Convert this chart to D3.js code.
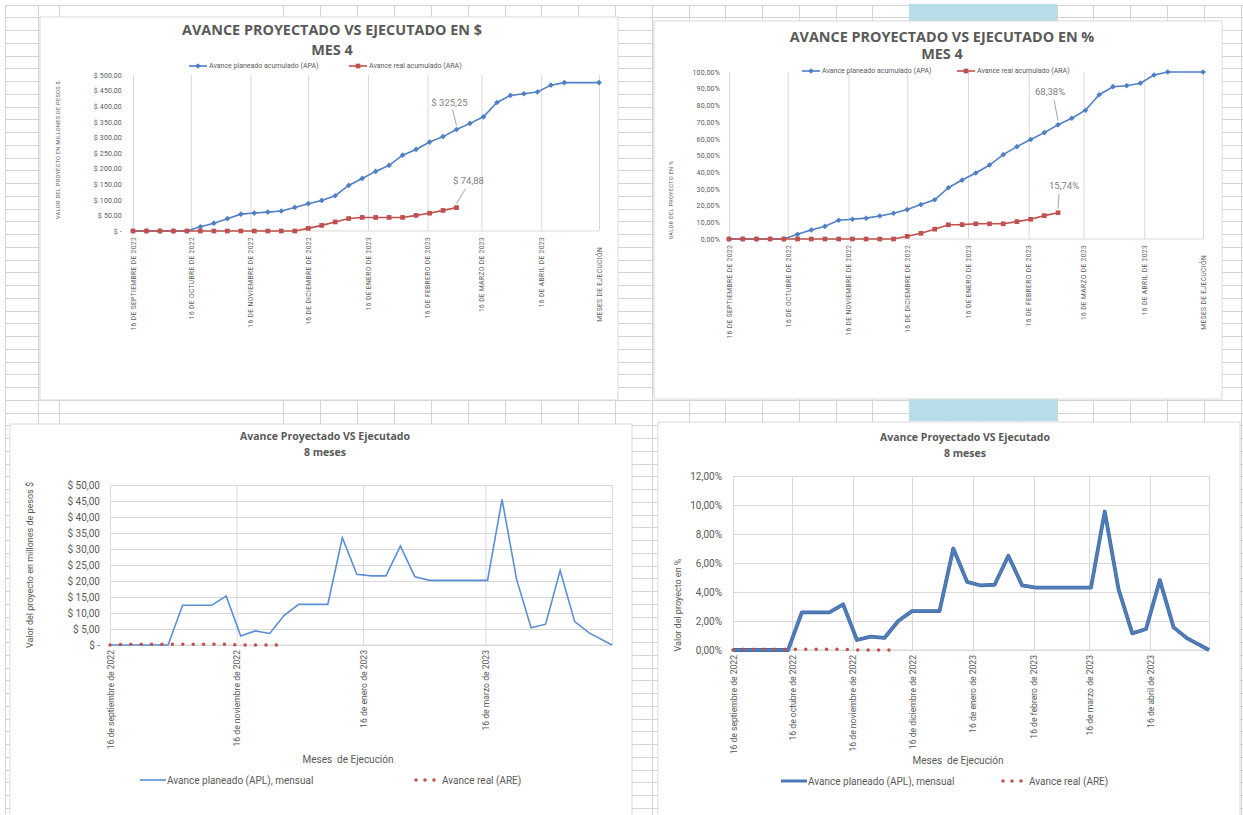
<!DOCTYPE html>
<html>
<head>
<meta charset="utf-8">
<script src="https://cdn.jsdelivr.net/npm/d3@7"></script>
<style>
  body { margin: 0; background: #fff; }
  svg { display: block; font-family: Roboto, "Open Sans", sans-serif; }
</style>
</head>
<body>
<script>
// Define SVG area dimensions
var svgWidth = 1243;
var svgHeight = 815;

// Weekly dates of the project (categories)
var weekDates = ["2022-09-16", "2022-09-23", "2022-09-30", "2022-10-07", "2022-10-14", "2022-10-21",
  "2022-10-28", "2022-11-04", "2022-11-11", "2022-11-18", "2022-11-25", "2022-12-02", "2022-12-09",
  "2022-12-16", "2022-12-23", "2022-12-30", "2023-01-06", "2023-01-13", "2023-01-20", "2023-01-27",
  "2023-02-03", "2023-02-10", "2023-02-17", "2023-02-24", "2023-03-03", "2023-03-10", "2023-03-17",
  "2023-03-24", "2023-03-31", "2023-04-07", "2023-04-14", "2023-04-21", "2023-04-28", "2023-05-05"];
var endDate = "2023-05-16";

// Monthly ticks and their labels
var tickDates = ["2022-09-16", "2022-10-16", "2022-11-16", "2022-12-16", "2023-01-16",
  "2023-02-16", "2023-03-16", "2023-04-16", "2023-05-16"];
var tickLabelsUpper = ["16 DE SEPTIEMBRE DE 2022", "16 DE OCTUBRE DE 2022", "16 DE NOVIEMBRE DE 2022",
  "16 DE DICIEMBRE DE 2022", "16 DE ENERO DE 2023", "16 DE FEBRERO DE 2023", "16 DE MARZO DE 2023",
  "16 DE ABRIL DE 2023", "MESES DE EJECUCIÓN"];
var tickLabelsLower = ["16 de septiembre de 2022", "16 de octubre de 2022", "16 de noviembre de 2022",
  "16 de diciembre de 2022", "16 de enero de 2023", "16 de febrero de 2023", "16 de marzo de 2023",
  "16 de abril de 2023"];
var tickLabelsBimonthly = ["16 de septiembre de 2022", "16 de noviembre de 2022", "16 de enero de 2023", "16 de marzo de 2023"];

// Accumulated series (millions of pesos)
var planAcumPesos = [0, 0, 0, 0, 0, 13.5, 25, 39.5, 54, 57.5, 60.5, 64, 75.5, 87.5, 98, 113, 146, 168.5,
  191, 210.5, 243, 261.5, 285, 302.5, 325.25, 345, 366, 412, 434.5, 440, 445.5, 467.5, 475.65, 475.65];
var realAcumPesos = [0, 0, 0, 0, 0, 0, 0, 0, 0, 0, 0, 0, 0, 8.5, 18, 29, 40, 43.5, 43.5, 43.5, 43.5, 50, 57, 66, 74.88];

// Accumulated series (%)
var planAcumPct = [0, 0, 0, 0, 0, 2.8, 5.4, 7.6, 11.2, 11.8, 12.5, 13.8, 15.4, 17.6, 20.6, 23.5, 30.7, 35.3,
  39.5, 44.3, 50.5, 55.3, 59.6, 63.7, 68.38, 72.3, 77.1, 86.4, 91.2, 91.8, 93.3, 98.2, 100, 100];
var realAcumPct = [0, 0, 0, 0, 0, 0, 0, 0, 0, 0, 0, 0, 0, 1.6, 3.4, 5.9, 8.5, 8.6, 9.1, 9.1, 9.1, 10.4, 11.8, 14.0, 15.74];

// Monthly series (millions of pesos)
var planMensualPesos = [0, 0, 0, 0, 0, 12.4, 12.4, 12.4, 15.3, 2.8, 4.4, 3.6, 9.3, 12.7, 12.7, 12.7, 33.5,
  22.1, 21.6, 21.6, 30.9, 21.3, 20.2, 20.2, 20.2, 20.2, 20.2, 45.5, 20.5, 5.4, 6.5, 23.3, 7.3, 3.8, 0];
var realMensualPesos = [0, 0.25, 0.25, 0.25, 0.25, 0.25, 0.25, 0.25, 0.25, 0, 0, 0, 0];

// Monthly series (%)
var planMensualPct = [0, 0, 0, 0, 0, 2.6, 2.6, 2.6, 3.15, 0.69, 0.92, 0.83, 2.0, 2.68, 2.68, 2.68, 7.0,
  4.7, 4.45, 4.5, 6.5, 4.45, 4.3, 4.3, 4.3, 4.3, 4.3, 9.55, 4.2, 1.15, 1.45, 4.82, 1.56, 0.8, 0];
var realMensualPct = [0, 0.06, 0.06, 0.06, 0.06, 0.06, 0.06, 0.06, 0.06, 0, 0, 0, 0];

// Y tick values
var yTicksAcumPesos = [0, 50, 100, 150, 200, 250, 300, 350, 400, 450, 500];
var yTicksAcumPct = [0, 10, 20, 30, 40, 50, 60, 70, 80, 90, 100];
var yTicksMensualPesos = [0, 5, 10, 15, 20, 25, 30, 35, 40, 45, 50];
var yTicksMensualPct = [0, 2, 4, 6, 8, 10, 12];

var parseDate = d3.timeParse("%Y-%m-%d");
var datesAcum = weekDates.slice(0, 33).concat([endDate]).map(parseDate);
var datesMensual = weekDates.concat([endDate]).map(parseDate);

var blue = "#4f7fc6";
var red = "#c0504d";
var textGray = "#595959";
var gridGray = "#d9d9d9";

function fmtComma(v) { return v.toFixed(2).replace(".", ","); }
function fmtPesos(v) { return v === 0 ? "$ -" : "$ " + fmtComma(v); }
function fmtPct(v) { return fmtComma(v) + "%"; }

var svg = d3.select("body")
  .append("svg")
  .attr("width", svgWidth)
  .attr("height", svgHeight);

// Spreadsheet background grid
var gridCols = [5, 38, 59, 283, 320, 357, 394, 431, 468, 505, 541, 578, 615, 652, 689, 725, 762, 799,
  836, 872, 909, 946, 983, 1020, 1057, 1093, 1130, 1167, 1204, 1241];
var sheet = svg.append("g").attr("shape-rendering", "crispEdges");
sheet.selectAll(".col").data(gridCols).enter().append("line")
  .attr("x1", d => d).attr("x2", d => d).attr("y1", 5).attr("y2", svgHeight)
  .attr("stroke", "#d4d4d4");
sheet.selectAll(".row").data(d3.range(5, svgHeight, 12.75)).enter().append("line")
  .attr("x1", 5).attr("x2", svgWidth).attr("y1", d => d).attr("y2", d => d)
  .attr("stroke", "#d4d4d4");
sheet.append("rect").attr("x", 909).attr("y", 4).attr("width", 148).attr("height", 17).attr("fill", "#b7dde8");
sheet.append("rect").attr("x", 909).attr("y", 399).attr("width", 148).attr("height", 22).attr("fill", "#b7dde8");

// Generic chart frame with axes
function makeChart(o) {
  var g = svg.append("g");
  g.append("rect")
    .attr("x", o.box[0]).attr("y", o.box[1]).attr("width", o.box[2]).attr("height", o.box[3])
    .attr("fill", "#fff").attr("stroke", gridGray);

  var x = d3.scaleTime()
    .domain([parseDate(tickDates[0]), parseDate(endDate)])
    .range([o.left, o.right]);
  var y = d3.scaleLinear()
    .domain([0, o.yMax])
    .range([o.bottom, o.top]);

  // horizontal gridlines
  if (o.hGrid) {
    g.append("g")
      .attr("transform", `translate(${o.left}, 0)`)
      .call(d3.axisLeft(y).tickValues(o.yTicks).tickSize(-(o.right - o.left)).tickFormat(""))
      .call(a => a.select(".domain").remove())
      .selectAll("line").attr("stroke", gridGray);
  }

  // vertical gridlines
  g.append("g")
    .attr("transform", `translate(0, ${o.bottom})`)
    .call(d3.axisBottom(x).tickValues(o.gridDates.map(parseDate)).tickSize(-(o.bottom - o.top)).tickFormat(""))
    .call(a => a.select(".domain").remove())
    .selectAll("line").attr("stroke", gridGray);

  g.append("line")
    .attr("x1", o.left).attr("x2", o.right).attr("y1", o.bottom).attr("y2", o.bottom)
    .attr("stroke", gridGray);

  // y labels
  g.append("g")
    .attr("transform", `translate(${o.labelX}, 0)`)
    .call(d3.axisLeft(y).tickValues(o.yTicks).tickFormat(o.yFormat).tickSize(0).tickPadding(0))
    .call(a => a.select(".domain").remove())
    .selectAll("text")
    .attr("font-family", "Roboto").attr("font-size", o.yFont).attr("fill", textGray)
    .attr("letter-spacing", o.yLetter || 0);

  // x labels, rotated
  g.append("g")
    .attr("transform", `translate(0, ${o.bottom})`)
    .call(d3.axisBottom(x).tickValues(o.labelDates.map(parseDate)).tickFormat((d, i) => o.labels[i]).tickSize(0))
    .call(a => a.select(".domain").remove())
    .selectAll("text")
    .attr("transform", "rotate(-90)")
    .attr("text-anchor", "end")
    .attr("x", (d, i) => -(o.xGap + (o.labels[i] === "MESES DE EJECUCIÓN" ? 10 : 0)))
    .attr("y", 0)
    .attr("dy", "0.35em")
    .attr("font-family", "Roboto").attr("font-size", o.xFont).attr("fill", textGray)
    .attr("letter-spacing", o.xLetter || 0);

  // titles
  o.title.forEach(function(t, i) {
    g.append("text")
      .attr("x", o.titleX).attr("y", o.titleY + i * o.titleGap)
      .attr("text-anchor", "middle")
      .attr("font-family", "Open Sans").attr("font-weight", "bold")
      .attr("font-size", o.titleFont).attr("fill", textGray)
      .text(t);
  });

  // y axis title
  g.append("text")
    .attr("transform", `translate(${o.yTitle[0]}, ${o.yTitle[1]}) rotate(-90)`)
    .attr("text-anchor", "middle")
    .attr("font-family", "Roboto").attr("font-size", o.yTitleFont).attr("fill", textGray)
    .attr("letter-spacing", o.yTitleLetter || 0)
    .text(o.yTitleText);

  return { g: g, x: x, y: y };
}

// Accumulated chart with markers
function drawAcum(c, plan, real, legend, ann) {
  var line = d3.line().x(d => c.x(d[0])).y(d => c.y(d[1]));
  var planPts = plan.map((v, i) => [datesAcum[i], v]);
  var realPts = real.map((v, i) => [datesAcum[i], v]);

  c.g.append("path").datum(planPts).attr("d", line)
    .attr("fill", "none").attr("stroke", blue).attr("stroke-width", 1.6);
  c.g.selectAll(".pm").data(planPts).enter().append("path")
    .attr("d", d3.symbol(d3.symbolSquare, 16))
    .attr("transform", d => `translate(${c.x(d[0])}, ${c.y(d[1])}) rotate(45)`)
    .attr("fill", blue);

  c.g.append("path").datum(realPts).attr("d", line)
    .attr("fill", "none").attr("stroke", red).attr("stroke-width", 1.6);
  c.g.selectAll(".rm").data(realPts).enter().append("path")
    .attr("d", d3.symbol(d3.symbolSquare, 22))
    .attr("transform", d => `translate(${c.x(d[0])}, ${c.y(d[1])})`)
    .attr("fill", red);

  // legend
  [[legend.x1, blue, "Avance planeado acumulado (APA)", true], [legend.x2, red, "Avance real acumulado (ARA)", false]]
    .forEach(function(l) {
      c.g.append("line").attr("x1", l[0]).attr("x2", l[0] + 18).attr("y1", legend.y).attr("y2", legend.y)
        .attr("stroke", l[1]).attr("stroke-width", 1.6);
      c.g.append("path")
        .attr("d", d3.symbol(d3.symbolSquare, l[3] ? 16 : 22))
        .attr("transform", `translate(${l[0] + 9}, ${legend.y}) rotate(${l[3] ? 45 : 0})`)
        .attr("fill", l[1]);
      c.g.append("text").attr("x", l[0] + 20).attr("y", legend.y).attr("dy", "0.35em")
        .attr("font-family", "Roboto").attr("font-size", 7).attr("fill", textGray)
        .text(l[2]);
    });

  // data labels with leader lines
  ann.forEach(function(a) {
    var px = c.x(datesAcum[a.i]);
    var py = c.y(a.series[a.i]);
    c.g.append("line")
      .attr("x1", px + a.lx).attr("y1", py + a.ly).attr("x2", px).attr("y2", py - 4)
      .attr("stroke", "#a6a6a6").attr("stroke-width", 1);
    c.g.append("text")
      .attr("x", px + a.tx).attr("y", py + a.ty)
      .attr("text-anchor", "middle")
      .attr("font-family", "Roboto").attr("font-size", 9.5).attr("fill", "#7f7f7f")
      .text(a.text);
  });
}

// Monthly chart, plain lines
function drawMensual(c, plan, real, thick, legend) {
  var line = d3.line().x(d => c.x(d[0])).y(d => c.y(d[1]));
  var planPts = plan.map((v, i) => [datesMensual[i], v]);
  var realPts = real.map((v, i) => [datesMensual[i], v]);

  if (thick) {
    c.g.append("path").datum(planPts).attr("d", line)
      .attr("fill", "none").attr("stroke", "#41699f").attr("stroke-width", 3.8)
      .attr("stroke-linejoin", "round");
    c.g.append("path").datum(planPts).attr("d", line)
      .attr("fill", "none").attr("stroke", "#4e7dba").attr("stroke-width", 2.6)
      .attr("stroke-linejoin", "round");
  } else {
    c.g.append("path").datum(planPts).attr("d", line)
      .attr("fill", "none").attr("stroke", "#5b8fd4").attr("stroke-width", 1.6);
  }

  c.g.append("path").datum(realPts).attr("d", line)
    .attr("fill", "none").attr("stroke", red).attr("stroke-width", 3.5)
    .attr("stroke-linecap", "round").attr("stroke-dasharray", "0 10.4");

  // x axis title
  c.g.append("text")
    .attr("x", legend.titleX).attr("y", legend.titleY)
    .attr("text-anchor", "middle")
    .attr("font-family", "Roboto").attr("font-size", 10).attr("fill", textGray)
    .attr("xml:space", "preserve")
    .text("Meses  de Ejecución");

  // legend
  c.g.append("line").attr("x1", legend.x1).attr("x2", legend.x1 + 26).attr("y1", legend.y).attr("y2", legend.y)
    .attr("stroke", thick ? "#4a79b8" : "#5b8fd4").attr("stroke-width", thick ? 3 : 1.6);
  c.g.append("text").attr("x", legend.x1 + 27).attr("y", legend.y).attr("dy", "0.35em")
    .attr("font-family", "Roboto").attr("font-size", 10).attr("fill", textGray)
    .text("Avance planeado (APL), mensual");
  c.g.append("line").attr("x1", legend.x2).attr("x2", legend.x2 + 22).attr("y1", legend.y).attr("y2", legend.y)
    .attr("stroke", red).attr("stroke-width", 3.5)
    .attr("stroke-linecap", "round").attr("stroke-dasharray", "0 9");
  c.g.append("text").attr("x", legend.x2 + 26).attr("y", legend.y).attr("dy", "0.35em")
    .attr("font-family", "Roboto").attr("font-size", 10).attr("fill", textGray)
    .text("Avance real (ARE)");
}

// Chart A: accumulated in pesos
var chartA = makeChart({
  box: [40, 17, 578, 383], left: 133, right: 599, top: 75, bottom: 231, yMax: 500,
  yTicks: yTicksAcumPesos, yFormat: fmtPesos, labelX: 122, yFont: 7, yLetter: 0.2,
  gridDates: tickDates, labelDates: tickDates, labels: tickLabelsUpper, xGap: 6, xFont: 6.6, xLetter: 0.4,
  title: ["AVANCE PROYECTADO VS EJECUTADO EN $", "MES 4"], titleX: 332, titleY: 35, titleGap: 20, titleFont: 14.4,
  yTitle: [60, 150], yTitleText: "VALOR DEL PROYECTO EN MILLONES DE PESOS $", yTitleFont: 5.6, yTitleLetter: 0.3
});
drawAcum(chartA, planAcumPesos, realAcumPesos, { x1: 189, x2: 349, y: 66 }, [
  { i: 24, series: planAcumPesos, text: "$ 325,25", tx: -7, ty: -24, lx: -4, ly: -20 },
  { i: 24, series: realAcumPesos, text: "$ 74,88", tx: 12, ty: -24, lx: 9, ly: -19 }
]);

// Chart B: accumulated in %
var chartB = makeChart({
  box: [654, 21, 568, 378], left: 729, right: 1203, top: 72, bottom: 239, yMax: 100,
  yTicks: yTicksAcumPct, yFormat: fmtPct, labelX: 720, yFont: 7, yLetter: 0.2,
  gridDates: tickDates, labelDates: tickDates, labels: tickLabelsUpper, xGap: 6, xFont: 6.6, xLetter: 0.4,
  title: ["AVANCE PROYECTADO VS EJECUTADO EN %", "MES 4"], titleX: 942, titleY: 42, titleGap: 17, titleFont: 14.4,
  yTitle: [673, 200], yTitleText: "VALOR DEL PROYECTO EN %", yTitleFont: 5.6, yTitleLetter: 0.3
});
drawAcum(chartB, planAcumPct, realAcumPct, { x1: 802, x2: 957, y: 71 }, [
  { i: 24, series: planAcumPct, text: "68,38%", tx: -8, ty: -30, lx: -4, ly: -25 },
  { i: 24, series: realAcumPct, text: "15,74%", tx: 6, ty: -24, lx: 1, ly: -19 }
]);

// Chart C: monthly in pesos
var chartC = makeChart({
  box: [10, 424, 622, 400], left: 110, right: 612, top: 485, bottom: 645, yMax: 50, hGrid: true,
  yTicks: yTicksMensualPesos, yFormat: fmtPesos, labelX: 100, yFont: 10,
  gridDates: ["2022-09-16", "2022-11-16", "2023-01-16", "2023-03-16", "2023-05-16"],
  labelDates: ["2022-09-16", "2022-11-16", "2023-01-16", "2023-03-16"], labels: tickLabelsBimonthly,
  xGap: 5, xFont: 8.6,
  title: ["Avance Proyectado VS Ejecutado", "8 meses"], titleX: 325, titleY: 440, titleGap: 16, titleFont: 10.5,
  yTitle: [33, 565], yTitleText: "Valor del proyecto en millones de pesos $", yTitleFont: 9
});
drawMensual(chartC, planMensualPesos, realMensualPesos, false, { titleX: 348, titleY: 763, x1: 140, x2: 416, y: 780 });

// Chart D: monthly in %
var chartD = makeChart({
  box: [658, 422, 582, 400], left: 733, right: 1209, top: 476, bottom: 650, yMax: 12, hGrid: true,
  yTicks: yTicksMensualPct, yFormat: fmtPct, labelX: 722, yFont: 10,
  gridDates: tickDates, labelDates: tickDates.slice(0, 8), labels: tickLabelsLower,
  xGap: 5, xFont: 8.6,
  title: ["Avance Proyectado VS Ejecutado", "8 meses"], titleX: 965, titleY: 441, titleGap: 16, titleFont: 10.5,
  yTitle: [681, 605], yTitleText: "Valor del proyecto en %", yTitleFont: 9
});
drawMensual(chartD, planMensualPct, realMensualPct, true, { titleX: 958, titleY: 764, x1: 781, x2: 1003, y: 781 });
</script>
</body>
</html>
